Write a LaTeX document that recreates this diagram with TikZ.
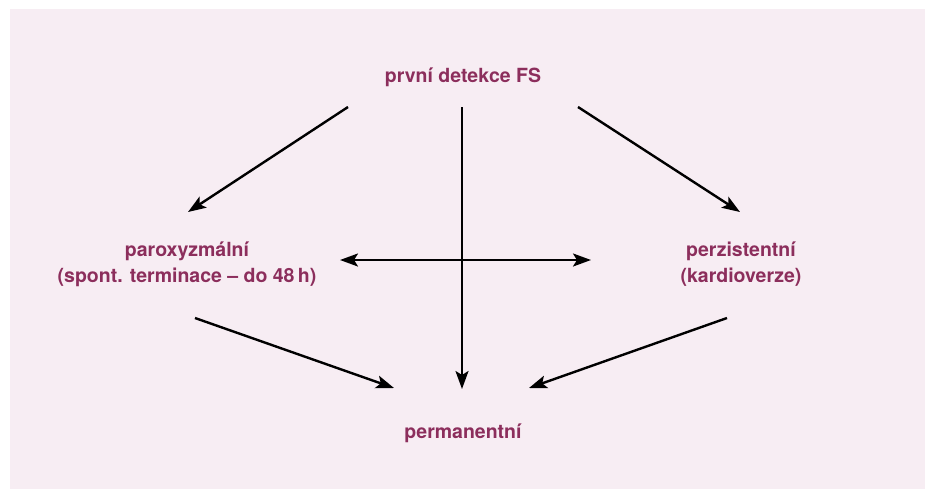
\documentclass[tikz,border=0pt]{standalone}
\usepackage{fontspec}
\setmainfont{TeX Gyre Heros}
\usetikzlibrary{arrows.meta}
\definecolor{bgpink}{HTML}{F7EDF3}
\definecolor{txtmag}{HTML}{8C2E5C}
\tikzset{
  lbl/.style={font=\bfseries\fontsize{19.5}{26}\selectfont, text=txtmag, align=center, inner sep=0pt},
  arr/.style={line width=2.4pt, -{Stealth[length=18pt,width=13pt,inset=4pt]}},
  darr/.style={line width=2.4pt, {Stealth[length=18pt,width=13pt,inset=4pt]}-{Stealth[length=18pt,width=13pt,inset=4pt]}}
}
\begin{document}
\begin{tikzpicture}[x=1pt,y=-1pt]
\useasboundingbox (0,0) rectangle (929,493);
\fill[bgpink] (10,9) rectangle (925,489);
\node[lbl] (top) at (463,77) {první detekce FS};
\node[lbl] (left) at (187,264) {paroxyzmální\\(spont. terminace -- do 48\,h)};
\node[lbl] (right) at (741,264) {perzistentní\\(kardioverze)};
\node[lbl] (bottom) at (463,433) {permanentní};
\coordinate (tl) at (348,107);
\coordinate (tlEnd) at (188,212);
\coordinate (tr) at (578,107);
\coordinate (trEnd) at (740,212);
\coordinate (tc) at (462,107);
\coordinate (tcEnd) at (462,389);
\coordinate (hl) at (340,260);
\coordinate (hr) at (591,260);
\coordinate (bl) at (195,318);
\coordinate (blEnd) at (394,388);
\coordinate (br) at (727,318);
\coordinate (brEnd) at (529,388);
\draw[arr] (tl) -- (tlEnd);
\draw[arr] (tr) -- (trEnd);
\draw[arr] (tc) -- (tcEnd);
\draw[darr] (hl) -- (hr);
\draw[arr] (bl) -- (blEnd);
\draw[arr] (br) -- (brEnd);
\end{tikzpicture}
\end{document}
